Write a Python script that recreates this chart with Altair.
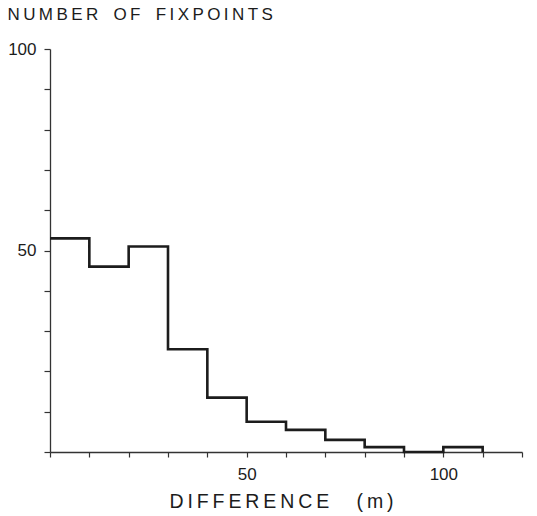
import altair as alt
import pandas as pd

# Histogram of height differences, 10 m bins
bin_start = [0, 10, 20, 30, 40, 50, 60, 70, 80, 90, 100, 110]
fixpoints = [53, 46, 51, 25.5, 13.5, 7.5, 5.5, 3, 1.2, 0, 1.2, 0]

x_ticks = list(range(0, 121, 10))
y_ticks = list(range(0, 101, 10))

THIN = "\u2009"


def spaced(text, gap=THIN, word_gap="\u2003"):
    words = text.split(" ")
    return (THIN + word_gap + THIN).join(gap.join(w) for w in words)


x_title = spaced("DIFFERENCE (m)")
y_title = spaced("NUMBER OF FIXPOINTS", word_gap="\u2002")

df = pd.DataFrame({"difference": bin_start, "count": fixpoints})

FONT = "Liberation Sans"
INK = "#1c1c1c"

steps = alt.Chart(df).mark_line(
    interpolate="step-after", color=INK, strokeWidth=2.6, strokeJoin="miter"
).encode(
    x=alt.X(
        "difference:Q",
        scale=alt.Scale(domain=[0, 120], nice=False, zero=False),
        axis=alt.Axis(
            values=x_ticks,
            labelExpr="datum.value == 50 || datum.value == 100 ? datum.label : ''",
            title=x_title,
            titleFontSize=19.5,
            titleFontWeight="normal",
            titleFont=FONT,
            titleColor=INK,
            titleBaseline="middle",
            titleY=49,
            titleX=231,
            grid=False,
            tickSize=5,
            labelPadding=9,
            labelFontSize=17,
            labelFont=FONT,
            labelColor=INK,
            domainColor="#333333",
            tickColor="#333333",
            domainWidth=1.3,
            tickWidth=1.2,
        ),
    ),
    y=alt.Y(
        "count:Q",
        scale=alt.Scale(domain=[0, 100], nice=False),
        axis=alt.Axis(
            values=y_ticks,
            labelExpr="datum.value == 50 || datum.value == 100 ? datum.label : ''",
            title=y_title,
            titleAngle=0,
            titleAlign="left",
            titleBaseline="middle",
            titleX=-43,
            titleY=-35,
            titleFontSize=17,
            titleFontWeight="normal",
            titleFont=FONT,
            titleColor=INK,
            grid=False,
            tickSize=6,
            labelPadding=8,
            labelFontSize=17,
            labelFont=FONT,
            labelColor=INK,
            domainColor="#333333",
            tickColor="#333333",
            domainWidth=1.3,
            tickWidth=1.2,
        ),
    ),
)

chart = steps.properties(
    width=472,
    height=403,
    padding={"left": 50, "top": 49, "right": 15, "bottom": 64},
    autosize=alt.AutoSizeParams(type="none"),
    background="white",
).configure_view(stroke=None)

chart.save("out.html", embed_options={"renderer": "svg", "actions": False})
